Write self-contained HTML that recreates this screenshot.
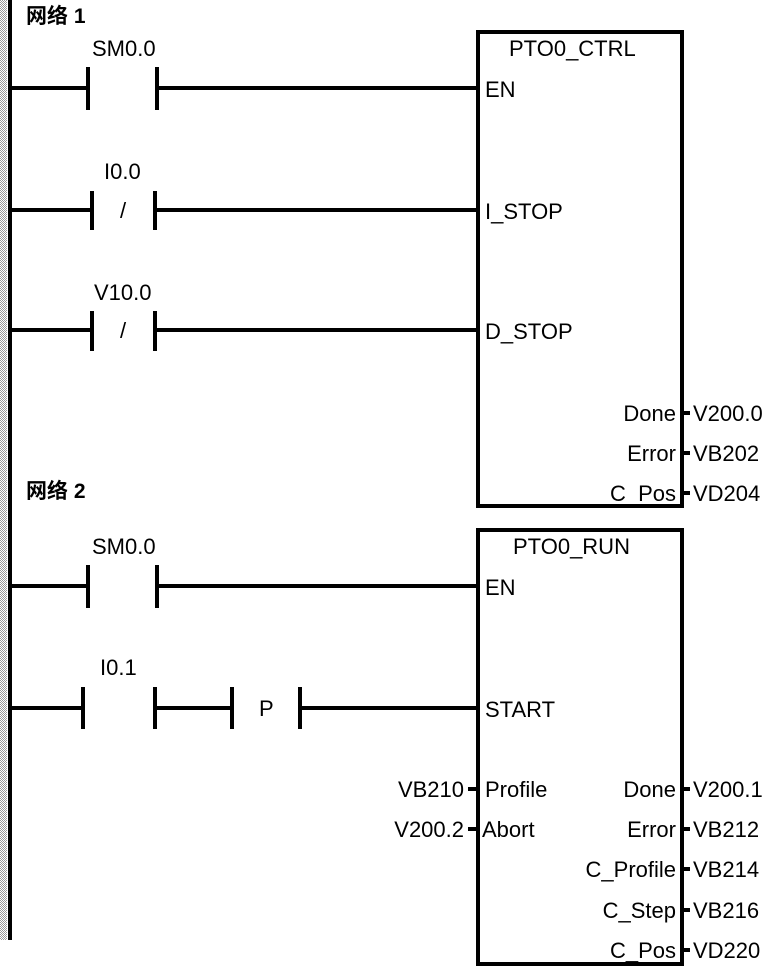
<!DOCTYPE html>
<html><head><meta charset="utf-8"><style>
html,body{margin:0;padding:0;background:#fff;}
svg{display:block;}
text{font-family:"Liberation Sans Narrow","Liberation Sans",sans-serif;font-size:22px;fill:#000;}
.b{font-family:"Liberation Sans","Noto Sans CJK SC",sans-serif;font-weight:bold;font-size:21px;}
</style></head><body>
<svg width="773" height="968" viewBox="0 0 773 968" xmlns="http://www.w3.org/2000/svg">
<defs><pattern id="d" width="2" height="2" patternUnits="userSpaceOnUse"><rect width="1" height="1" fill="#999"/><rect x="1" y="1" width="1" height="1" fill="#999"/></pattern></defs>
<rect x="0" y="0" width="7" height="940" fill="url(#d)"/>
<rect x="8" y="0" width="4" height="940" fill="#000"/>
<g stroke="#000" stroke-width="4" fill="none">
<!-- network 1 -->
<line x1="10" y1="88" x2="88" y2="88"/><line x1="88" y1="67" x2="88" y2="110"/>
<line x1="157" y1="67" x2="157" y2="110"/><line x1="157" y1="88" x2="478" y2="88"/>
<line x1="10" y1="210" x2="92" y2="210"/><line x1="92" y1="191" x2="92" y2="230"/>
<line x1="155" y1="191" x2="155" y2="230"/><line x1="155" y1="210" x2="478" y2="210"/>
<line x1="10" y1="330" x2="92" y2="330"/><line x1="92" y1="311" x2="92" y2="351"/>
<line x1="155" y1="311" x2="155" y2="351"/><line x1="155" y1="330" x2="478" y2="330"/>
<rect x="478" y="32" width="204" height="474"/>
<line x1="682" y1="413" x2="690" y2="413"/><line x1="682" y1="453" x2="690" y2="453"/><line x1="682" y1="493" x2="690" y2="493"/>
<!-- network 2 -->
<line x1="10" y1="586" x2="88" y2="586"/><line x1="88" y1="565" x2="88" y2="608"/>
<line x1="157" y1="565" x2="157" y2="608"/><line x1="157" y1="586" x2="478" y2="586"/>
<line x1="10" y1="708" x2="83" y2="708"/><line x1="83" y1="687" x2="83" y2="729"/>
<line x1="155" y1="687" x2="155" y2="729"/><line x1="155" y1="708" x2="232" y2="708"/>
<line x1="232" y1="687" x2="232" y2="729"/><line x1="300" y1="687" x2="300" y2="729"/>
<line x1="300" y1="708" x2="478" y2="708"/>
<rect x="478" y="530" width="204" height="434"/>
<line x1="468" y1="789" x2="478" y2="789"/><line x1="468" y1="829" x2="478" y2="829"/>
<line x1="682" y1="789" x2="690" y2="789"/><line x1="682" y1="829" x2="690" y2="829"/>
<line x1="682" y1="869" x2="690" y2="869"/><line x1="682" y1="910" x2="690" y2="910"/><line x1="682" y1="950" x2="690" y2="950"/>
</g>
<text class="b" x="26" y="23">网络 1</text>
<text class="b" x="26" y="498">网络 2</text>
<text x="92" y="56">SM0.0</text>
<text x="104" y="179">I0.0</text>
<text x="120" y="218" font-size="16">/</text>
<text x="94" y="300">V10.0</text>
<text x="120" y="338" font-size="16">/</text>
<text x="509" y="56">PTO0_CTRL</text>
<text x="485" y="97">EN</text>
<text x="485" y="219">I_STOP</text>
<text x="485" y="339">D_STOP</text>
<text x="676" y="421" text-anchor="end">Done</text>
<text x="676" y="461" text-anchor="end">Error</text>
<text x="676" y="501" text-anchor="end">C_Pos</text>
<text x="693" y="421">V200.0</text>
<text x="693" y="461">VB202</text>
<text x="693" y="501">VD204</text>
<text x="92" y="554">SM0.0</text>
<text x="100" y="675">I0.1</text>
<text x="259" y="716" font-size="18">P</text>
<text x="513" y="554">PTO0_RUN</text>
<text x="485" y="595">EN</text>
<text x="485" y="717">START</text>
<text x="485" y="797">Profile</text>
<text x="482" y="837">Abort</text>
<text x="464" y="797" text-anchor="end">VB210</text>
<text x="464" y="837" text-anchor="end">V200.2</text>
<text x="676" y="797" text-anchor="end">Done</text>
<text x="676" y="837" text-anchor="end">Error</text>
<text x="676" y="877" text-anchor="end">C_Profile</text>
<text x="676" y="918" text-anchor="end">C_Step</text>
<text x="676" y="958" text-anchor="end">C_Pos</text>
<text x="693" y="797">V200.1</text>
<text x="693" y="837">VB212</text>
<text x="693" y="877">VB214</text>
<text x="693" y="918">VB216</text>
<text x="693" y="958">VD220</text>
</svg>
</body></html>
